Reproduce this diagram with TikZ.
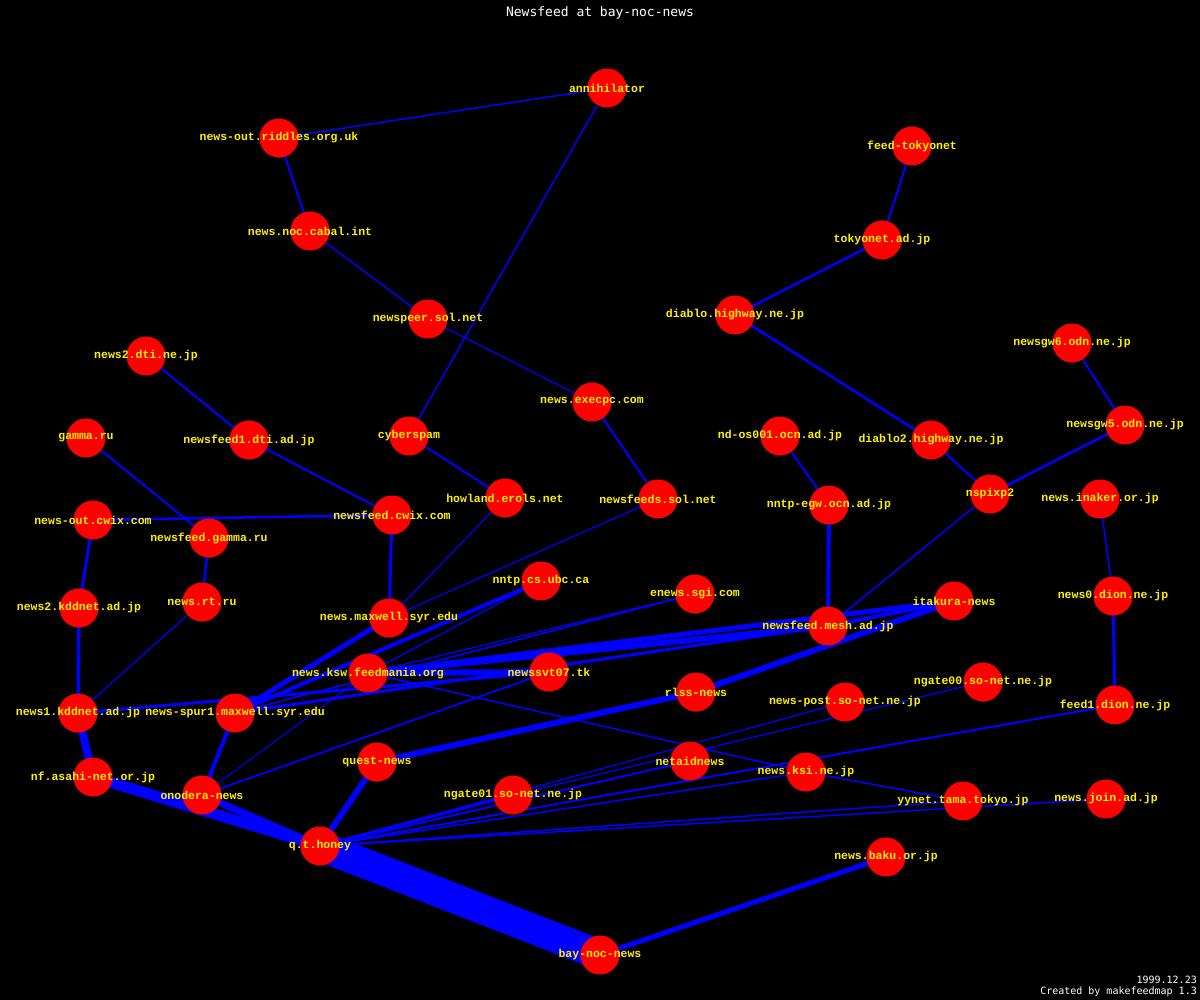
\documentclass[tikz,border=0pt]{standalone}
\usepackage{fontspec}
\newfontfamily\hostfont{Liberation Mono}
\newfontfamily\plainmono{DejaVu Sans Mono}
\pgfdeclarelayer{backlayer}
\pgfdeclarelayer{edgelayer}
\pgfdeclarelayer{disclayer}
\pgfsetlayers{backlayer,edgelayer,disclayer,main}
\begin{document}
\begin{tikzpicture}[x=1pt,y=-1pt,
  host/.style={text=yellow,font=\hostfont\bfseries\fontsize{11.5}{12}\selectfont,inner sep=0pt},
  feed/.style={draw=blue,line width=#1},
  feed/.default=1.5,
  note/.style={text=white,font=\plainmono\fontsize{10}{11}\selectfont,inner sep=0pt,anchor=east}]
\begin{pgfonlayer}{backlayer}
\fill[black] (0,0) rectangle (1200,1000);
\end{pgfonlayer}
\useasboundingbox (0,0) rectangle (1200,1000);
% title and footer
\node[text=white,font=\plainmono\fontsize{13}{14}\selectfont,inner sep=0pt] (title) at (600,13) {Newsfeed at bay-noc-news};
\node[note] (date) at (1197,980) {1999.12.23};
\node[note] (credit) at (1197,992) {Created by makefeedmap 1.3};
% hosts
\node[host] (ann) at (607,88) {annihilator};
\node[host] (rid) at (279,138) {news-out.riddles.org.uk};
\node[host] (ftk) at (912,146) {feed-tokyonet};
\node[host] (cab) at (310,231) {news.noc.cabal.int};
\node[host] (tok) at (882,240) {tokyonet.ad.jp};
\node[host] (nsp) at (428,319) {newspeer.sol.net};
\node[host] (dia) at (735,315) {diablo.highway.ne.jp};
\node[host] (dtitwo) at (146,356) {news2.dti.ne.jp};
\node[host] (gwsix) at (1072,343) {newsgw6.odn.ne.jp};
\node[host] (exe) at (592,402) {news.execpc.com};
\node[host] (ocnone) at (780,436) {nd-os001.ocn.ad.jp};
\node[host] (diatwo) at (931,440) {diablo2.highway.ne.jp};
\node[host] (gwfive) at (1125,425) {newsgw5.odn.ne.jp};
\node[host] (gru) at (86,438) {gamma.ru};
\node[host] (dtione) at (249,440) {newsfeed1.dti.ad.jp};
\node[host] (cyb) at (409,436) {cyberspam};
\node[host] (how) at (505,498) {howland.erols.net};
\node[host] (nss) at (658,499) {newsfeeds.sol.net};
\node[host] (egw) at (829,505) {nntp-egw.ocn.ad.jp};
\node[host] (pix) at (990,494) {nspixp2};
\node[host] (ink) at (1100,499) {news.inaker.or.jp};
\node[host] (ocw) at (93,520) {news-out.cwix.com};
\node[host] (fcw) at (392,515) {newsfeed.cwix.com};
\node[host] (fgr) at (209,538) {newsfeed.gamma.ru};
\node[host] (ubc) at (541,581) {nntp.cs.ubc.ca};
\node[host] (sgi) at (695,594) {enews.sgi.com};
\node[host] (dionzero) at (1113,596) {news0.dion.ne.jp};
\node[host] (kddtwo) at (79,608) {news2.kddnet.ad.jp};
\node[host] (rtru) at (202,602) {news.rt.ru};
\node[host] (max) at (389,618) {news.maxwell.syr.edu};
\node[host] (ita) at (954,601) {itakura-news};
\node[host] (mesh) at (828,626) {newsfeed.mesh.ad.jp};
\node[host] (ksw) at (368,673) {news.ksw.feedmania.org};
\node[host] (svt) at (549,672) {newssvt07.tk};
\node[host] (rlss) at (696,692) {rlss-news};
\node[host] (ngzero) at (983,682) {ngate00.so-net.ne.jp};
\node[host] (post) at (845,702) {news-post.so-net.ne.jp};
\node[host] (dionone) at (1115,705) {feed1.dion.ne.jp};
\node[host] (kddone) at (78,713) {news1.kddnet.ad.jp};
\node[host] (spur) at (235,713) {news-spur1.maxwell.syr.edu};
\node[host] (net) at (690,761) {netaidnews};
\node[host] (quest) at (377,762) {quest-news};
\node[host] (asahi) at (93,777) {nf.asahi-net.or.jp};
\node[host] (ksi) at (806,772) {news.ksi.ne.jp};
\node[host] (ono) at (202,795) {onodera-news};
\node[host] (ngone) at (513,795) {ngate01.so-net.ne.jp};
\node[host] (yy) at (963,801) {yynet.tama.tokyo.jp};
\node[host] (join) at (1106,799) {news.join.ad.jp};
\node[host] (qt) at (320,846) {q.t.honey};
\node[host] (baku) at (886,857) {news.baku.or.jp};
\node[host] (bay) at (600,955) {bay-noc-news};
% discs
\begin{pgfonlayer}{disclayer}
\foreach \h in {ann,rid,ftk,cab,tok,nsp,dia,dtitwo,gwsix,exe,ocnone,diatwo,gwfive,gru,dtione,cyb,how,nss,egw,pix,ink,ocw,fcw,fgr,ubc,sgi,dionzero,kddtwo,rtru,max,ita,mesh,ksw,svt,rlss,ngzero,post,dionone,kddone,spur,net,quest,asahi,ksi,ono,ngone,yy,join,qt,baku,bay}
  \fill[red] (\h.center) circle (19.5);
\end{pgfonlayer}
% feeds
\begin{pgfonlayer}{edgelayer}
\draw[feed=1.5] (ann.center) -- (rid.center);
\draw[feed=1.5] (ann.center) -- (cyb.center);
\draw[feed=2] (rid.center) -- (cab.center);
\draw[feed=1.5] (cab.center) -- (nsp.center);
\draw[feed=1.2] (nsp.center) -- (exe.center);
\draw[feed=2] (exe.center) -- (nss.center);
\draw[feed=2] (ftk.center) -- (tok.center);
\draw[feed=2.5] (tok.center) -- (dia.center);
\draw[feed=2.5] (dia.center) -- (diatwo.center);
\draw[feed=2] (diatwo.center) -- (pix.center);
\draw[feed=2] (gwsix.center) -- (gwfive.center);
\draw[feed=2.5] (gwfive.center) -- (pix.center);
\draw[feed=1.5] (pix.center) -- (mesh.center);
\draw[feed=2] (ocnone.center) -- (egw.center);
\draw[feed=4] (egw.center) -- (mesh.center);
\draw[feed=1.5] (ink.center) -- (dionzero.center);
\draw[feed=3] (dionzero.center) -- (dionone.center);
\draw[feed=2] (dtitwo.center) -- (dtione.center);
\draw[feed=2] (dtione.center) -- (fcw.center);
\draw[feed=2] (gru.center) -- (fgr.center);
\draw[feed=2.5] (fgr.center) -- (rtru.center);
\draw[feed=1.2] (rtru.center) -- (kddone.center);
\draw[feed=2.5] (ocw.center) -- (fcw.center);
\draw[feed=3] (ocw.center) -- (kddtwo.center);
\draw[feed=3.5] (kddtwo.center) -- (kddone.center);
\draw[feed=8] (kddone.center) -- (asahi.center);
\draw[feed=2] (cyb.center) -- (how.center);
\draw[feed=1.2] (how.center) -- (max.center);
\draw[feed=1.2] (nss.center) -- (max.center);
\draw[feed=3] (fcw.center) -- (max.center);
\draw[feed=5] (max.center) -- (spur.center);
\draw[feed=4] (spur.center) -- (ubc.center);
\draw[feed=1.2] (ksw.center) -- (ubc.center);
\draw[feed=1.5] (spur.center) -- (sgi.center);
\draw[feed=1.2] (ksw.center) -- (sgi.center);
\draw[feed=6] (ksw.center) -- (mesh.center);
\draw[feed=5] (ksw.center) -- (ita.center);
\draw[feed=3] (spur.center) -- (mesh.center);
\draw[feed=6] (ksw.center) -- (svt.center);
\draw[feed=3] (kddone.center) -- (svt.center);
\draw[feed=1.5] (ksw.center) -- (ksi.center);
\draw[feed=1.5] (ksi.center) -- (yy.center);
\draw[feed=4] (ono.center) -- (spur.center);
\draw[feed=1] (ono.center) -- (ksw.center);
\draw[feed=1.8] (ono.center) -- (svt.center);
\draw[feed=11] (asahi.center) -- (qt.center);
\draw[feed=7] (ono.center) -- (qt.center);
\draw[feed=30] (qt.center) -- (bay.center);
\draw[feed=6] (qt.center) -- (quest.center);
\draw[feed=6] (quest.center) -- (rlss.center);
\draw[feed=6] (rlss.center) -- (ita.center);
\draw[feed=4] (mesh.center) -- (ita.center);
\draw[feed=5] (bay.center) -- (baku.center);
\draw[feed=3] (qt.center) -- (ngone.center);
\draw[feed=2] (qt.center) -- (net.center);
\draw[feed=1.2] (qt.center) -- (post.center);
\draw[feed=1.2] (ngone.center) -- (ngzero.center);
\draw[feed=2] (qt.center) -- (dionone.center);
\draw[feed=1.5] (qt.center) -- (ksi.center);
\draw[feed=1.5] (qt.center) -- (yy.center);
\draw[feed=1.5] (qt.center) -- (join.center);
\end{pgfonlayer}
\end{tikzpicture}
\end{document}
